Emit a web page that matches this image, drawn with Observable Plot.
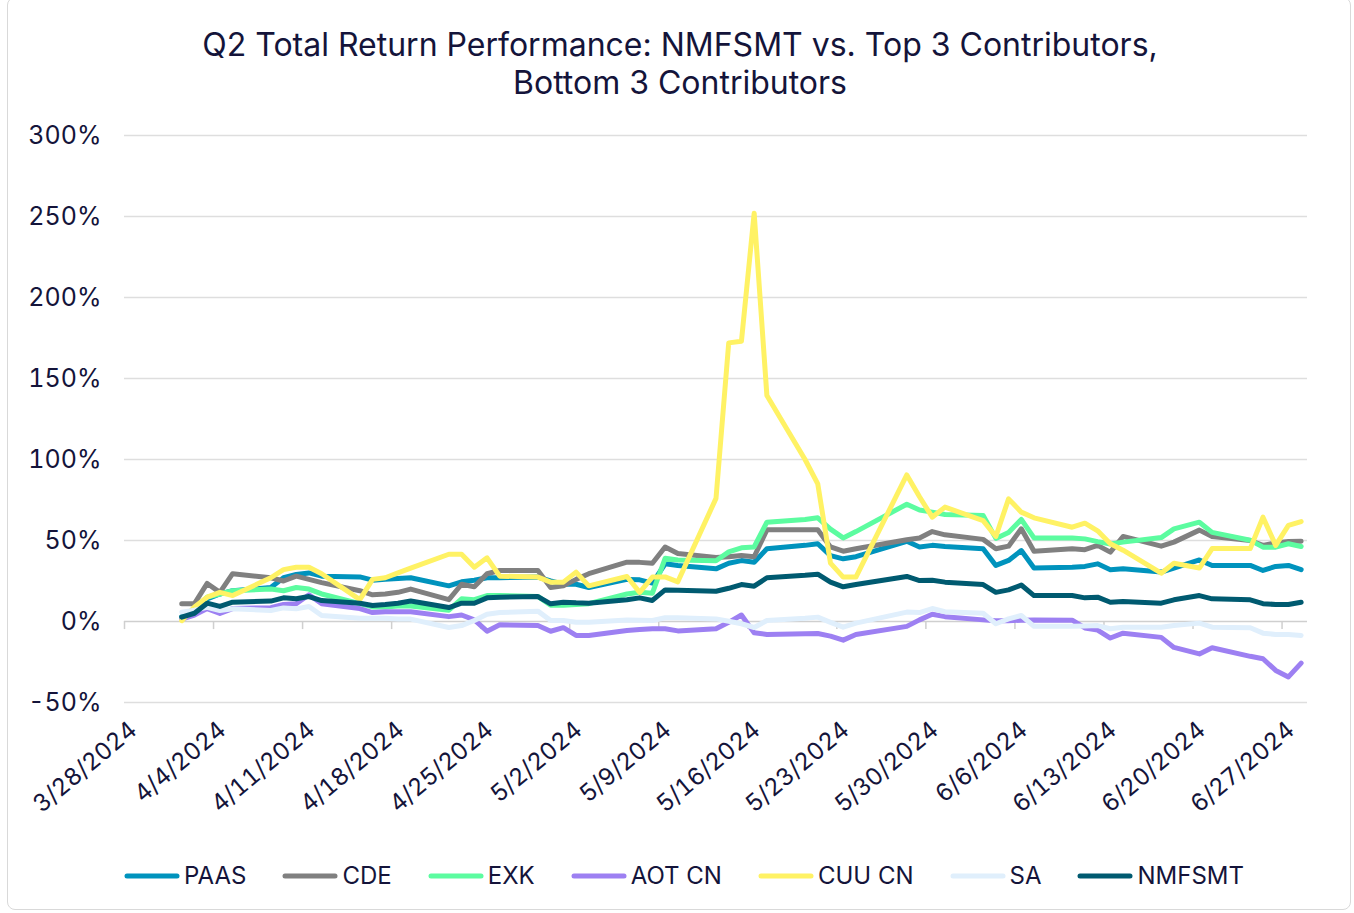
<!DOCTYPE html>
<html>
<head>
<meta charset="utf-8">
<script src="https://cdn.jsdelivr.net/npm/d3@7"></script>
<script src="https://cdn.jsdelivr.net/npm/@observablehq/plot@0.6"></script>
<style>
  html, body { margin: 0; padding: 0; background: #fff; }
  body { width: 1354px; height: 913px; position: relative; overflow: hidden; font-family: Inter, "Noto Sans", sans-serif; color: #14143a; }
  #frame { position: absolute; left: 7px; top: -3px; width: 1344px; height: 913px; border: 1px solid #d9d9d9; border-radius: 8px; box-sizing: border-box; }
  #title { position: absolute; left: 0; width: 1360px; top: 26px; text-align: center; font-size: 32px; line-height: 38px; color: #14143a; }
  #chart { position: absolute; left: 0; top: 100px; }
  #legend { position: absolute; left: 0; width: 1368px; top: 861px; display: flex; justify-content: center; align-items: center; font-size: 24px; color: #14143a; }
  .item { display: flex; align-items: center; margin: 0 18px; }
  .item svg { margin-right: 4px; }
</style>
</head>
<body>
<div id="frame"></div>
<div id="title">Q2 Total Return Performance: NMFSMT vs. Top 3 Contributors,<br>Bottom 3 Contributors</div>
<div id="chart"></div>
<div id="legend"></div>
<script>
const dates = [
  "4/1","4/2","4/3","4/4","4/5",
  "4/8","4/9","4/10","4/11","4/12",
  "4/15","4/16","4/17","4/18","4/19",
  "4/22","4/23","4/24","4/25","4/26",
  "4/29","4/30","5/1","5/2","5/3",
  "5/6","5/7","5/8","5/9","5/10",
  "5/13","5/14","5/15","5/16","5/17",
  "5/20","5/21","5/22","5/23","5/24",
  "5/28","5/29","5/30","5/31",
  "6/3","6/4","6/5","6/6","6/7",
  "6/10","6/11","6/12","6/13","6/14",
  "6/17","6/18","6/20","6/21",
  "6/24","6/25","6/26","6/27","6/28"
];
const PAAS = [
  3, 7, 14, 17, 19,
  21, 27, 29, 30, 28,
  27.5, 25.5, 26, 26.5, 27,
  22, 24.5, 25.5, 27, 27,
  27.4, 25, 23, 23, 21,
  26, 25.7, 23.7, 35.6, 34.6,
  32.5, 36, 37.6, 36.6, 44.9,
  47, 48, 40.7, 38.7, 40,
  49.5, 46, 47, 46.3,
  44.9, 34.6, 37.7, 43.8, 33,
  33.5, 34, 35.6, 32, 32.5,
  30.5, 33, 38, 34.6,
  34.6, 31.5, 34, 34.6, 32
];
const CDE = [
  11, 11, 23.5, 18, 29.5,
  27, 25, 28, 26, 24,
  19, 16.5, 17, 18, 20,
  13.5, 23, 21.5, 29.5, 31.5,
  31.5, 21, 22, 26, 29.5,
  36.6, 36.5, 36, 46, 42,
  39.5, 40, 40.7, 40, 56.6,
  56.6, 56.6, 46, 43.4, 44.9,
  50.5, 51.5, 55.5, 53.5,
  50.7, 44.9, 46.5, 57.2, 43.3,
  44.9, 44.3, 47, 42.8, 52.5,
  46.5, 49, 56.4, 52.5,
  50, 47, 48.5, 49.4, 49.5
];
const EXK = [
  2, 8, 15, 17, 19,
  20, 19, 21, 20, 17,
  11, 9, 9, 9.5, 9.5,
  7, 14, 13.5, 16, 16,
  15.5, 10, 10, 10.5, 11,
  17, 18, 17.5, 39, 38,
  37.5, 43, 45.5, 46, 61.3,
  63, 64, 57, 51.6, 55.5,
  72.4, 68.8, 67.5, 66,
  65.4, 51.3, 55, 63, 51.6,
  51.6, 51, 49.3, 47.8, 49,
  51.8, 57.2, 61.3, 55,
  50.2, 45.9, 45.9, 48, 46.3
];
const AOT = [
  1.5, 4, 8, 5, 8,
  8.5, 10.5, 11, 16.5, 11,
  8, 5.5, 6, 6, 6,
  3, 4, 1, -6, -2,
  -2.5, -6, -3.8, -8.6, -8.6,
  -5.6, -5, -4.5, -4.5, -5.8,
  -4.5, -0.5, 4, -7, -8,
  -7.5, -7.4, -9, -11.5, -8,
  -3, 1, 4.5, 3,
  1, 0.5, 0.5, 0.8, 1,
  0.8, -4, -5.3, -10.2, -7.2,
  -9.8, -16, -20, -16.2,
  -21.5, -23, -30.2, -34.2, -25.7
];
const CUU = [
  0.5, 9, 15, 18, 16,
  27, 32, 33.5, 33.5, 29.5,
  13.5, 26, 27, 30, 33,
  41.5, 41.5, 33.5, 39.3, 28,
  27.4, 24.3, 24.3, 30.5, 22,
  27.8, 18, 27.4, 27.5, 24.5,
  76, 172, 173, 252, 139.5,
  100, 85, 36, 27.4, 27.4,
  90.5, 77, 64.4, 70.6,
  62.3, 52.5, 75.7, 67.5, 64,
  58.2, 60.7, 56, 48, 44,
  29.8, 36, 33, 45,
  45, 64.4, 47, 59.3, 61.7
];
const SA = [
  5.8, 7, 8.8, 6.8, 7.8,
  6.8, 8.4, 7.8, 9.3, 3.7,
  2, 2, 2, 1.6, 1.5,
  -3.7, -2.5, 0.6, 4.5, 5.5,
  6.4, 0.6, 0.6, -0.4, -0.4,
  1, 0.8, 0.6, 2.3, 2.3,
  1.6, 0.2, -1.4, -3.7, 0.6,
  2, 2.7, -0.5, -3.5, -1,
  5.8, 5.5, 8, 6,
  5.1, -1.4, 1.6, 3.7, -3,
  -3, -2.8, -2.5, -4.5, -3.5,
  -3.5, -2.5, -1, -3.5,
  -3.9, -7.2, -8, -8, -8.6
];
const NMFSMT = [
  2.7, 5.1, 11.3, 9.3, 11.9,
  12.6, 14.6, 14, 15.4, 12.9,
  11.3, 9.9, 10.5, 11.3, 12.6,
  8.6, 11.3, 11.3, 14.6, 15,
  15.4, 10.9, 11.9, 11.5, 11.3,
  13.4, 14.6, 13, 19.5, 19.3,
  18.7, 20.5, 22.8, 21.8, 27,
  28.5, 29.2, 24.3, 21.4, 22.8,
  27.8, 25.3, 25.5, 24.3,
  22.8, 18, 19.5, 22.5, 16,
  16, 14.6, 15, 11.9, 12.4,
  11.3, 13.4, 16, 14,
  13.4, 11, 10.5, 10.5, 11.9
];
const seriesNames = ["PAAS", "CDE", "EXK", "AOT CN", "CUU CN", "SA", "NMFSMT"];
const seriesValues = [PAAS, CDE, EXK, AOT, CUU, SA, NMFSMT];
const colors = ["#0093bd", "#808080", "#5cfca0", "#9d80f2", "#fff264", "#e0effc", "#005a70"];
const yTicks = [-50, 0, 50, 100, 150, 200, 250, 300];
const xTickLabels = ["3/28","4/4","4/11","4/18","4/25","5/2","5/9","5/16","5/23","5/30","6/6","6/13","6/20","6/27"];

const parse = d3.utcParse("%m/%d/%Y");
const HALF_DAY = 12 * 3600 * 1000;
const rows = [];
seriesNames.forEach((s, k) => {
  seriesValues[k].forEach((v, i) => {
    rows.push({series: s, date: new Date(parse(dates[i] + "/2024").getTime() + HALF_DAY), value: v});
  });
});
const xTicks = xTickLabels.map(d => parse(d + "/2024"));

const chart = Plot.plot({
  width: 1354,
  height: 740,
  marginLeft: 124,
  marginRight: 47,
  marginTop: 35,
  marginBottom: 138,
  style: {fontFamily: "Inter, 'Noto Sans', sans-serif", color: "#14143a", background: "transparent"},
  x: {type: "utc", domain: [parse("3/28/2024"), parse("6/29/2024")]},
  y: {type: "linear", domain: [-50, 300], label: null},
  marks: [
    Plot.ruleY(yTicks.filter(d => d !== 0), {stroke: "#dedede", strokeWidth: 1.3}),
    Plot.ruleY([0], {stroke: "#cfcfcf", strokeWidth: 1.5}),
    Plot.ruleX(xTicks, {x: d => d, y1: 0, y2: -5, stroke: "#cfcfcf", strokeWidth: 1.5}),
    Plot.axisY(yTicks, {tickSize: 0, tickPadding: 23, tickFormat: d => d + "%", fontSize: 25, fill: "#14143a", label: null}),
    Plot.axisX(xTicks, {tickSize: 0, tickPadding: 24, tickRotate: -40, tickFormat: d3.utcFormat("%-m/%-d/%Y"), fontSize: 24, fill: "#14143a", dx: 9, label: null}),
    ...seriesNames.map((s, k) => Plot.lineY(rows.filter(r => r.series === s), {
      x: "date", y: "value", stroke: colors[k], strokeWidth: 5, strokeLinejoin: "round", strokeLinecap: "round"
    }))
  ]
});
document.getElementById("chart").appendChild(chart);

const legend = document.getElementById("legend");
seriesNames.forEach((s, k) => {
  const item = document.createElement("div");
  item.className = "item";
  item.innerHTML = `<svg width="56" height="10"><line x1="3" y1="5" x2="53" y2="5" stroke="${colors[k]}" stroke-width="5" stroke-linecap="round"/></svg><span>${s}</span>`;
  legend.appendChild(item);
});
</script>
</body>
</html>
